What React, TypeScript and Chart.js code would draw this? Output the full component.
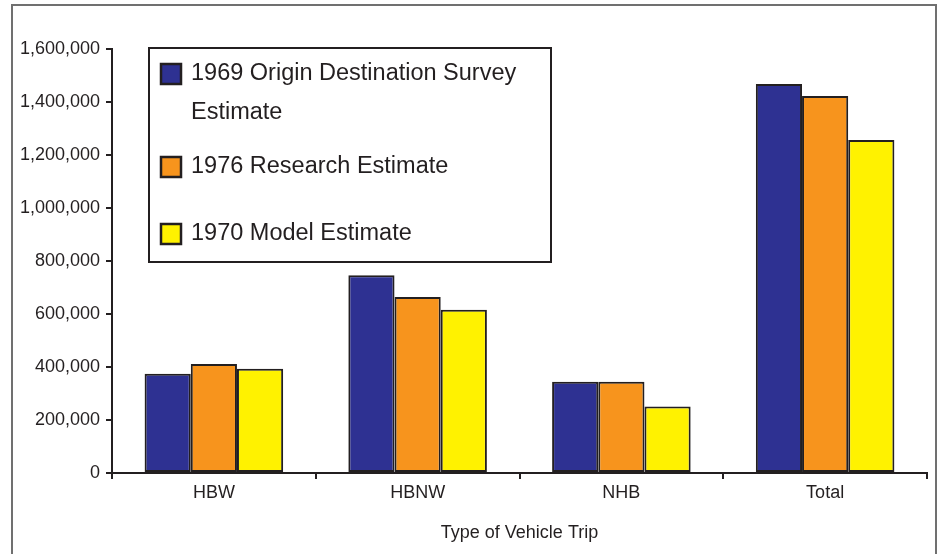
import React, { useEffect, useRef } from "react";
import { Chart, registerables } from "chart.js";

Chart.register(...registerables);

const categories = ["HBW", "HBNW", "NHB", "Total"];
const survey1969 = [375000, 746000, 344000, 1468000];
const research1976 = [411000, 664000, 344000, 1423000];
const model1970 = [393000, 616000, 251000, 1257000];
const seriesNames = [
  ["1969 Origin Destination Survey", "Estimate"],
  ["1976 Research Estimate"],
  ["1970 Model Estimate"],
];
const seriesColors = ["#2E3192", "#F7941D", "#FFF200"];
const yTicks = [0, 200000, 400000, 600000, 800000, 1000000, 1200000, 1400000, 1600000];
const xTitle = "Type of Vehicle Trip";

const FONT = "'Liberation Sans', Arial, Helvetica, sans-serif";
const TEXT = "#231F20";

const framePlugin = {
  id: "frame",
  beforeDraw(chart: any) {
    const ctx = chart.ctx;
    ctx.save();
    ctx.fillStyle = "#ffffff";
    ctx.fillRect(0, 0, chart.width, chart.height);
    ctx.strokeStyle = "#707070";
    ctx.lineWidth = 2;
    ctx.strokeRect(12, 5, 924, 620);
    ctx.restore();
  },
};

const legendPlugin = {
  id: "boxLegend",
  afterDraw(chart: any) {
    const ctx = chart.ctx;
    const ds = chart.data.datasets;
    ctx.save();
    ctx.fillStyle = "#ffffff";
    ctx.fillRect(149, 48, 402, 214);
    ctx.strokeStyle = "#231F20";
    ctx.lineWidth = 2;
    ctx.strokeRect(149, 48, 402, 214);
    const rowsY = [74, 167, 234];
    ctx.font = `23.5px ${FONT}`;
    ctx.textBaseline = "middle";
    ctx.textAlign = "left";
    ds.forEach((d: any, i: number) => {
      const y = rowsY[i];
      ctx.fillStyle = d.backgroundColor;
      ctx.fillRect(161, y - 10, 20, 20);
      ctx.strokeStyle = "#231F20";
      ctx.lineWidth = 2.5;
      ctx.strokeRect(161, y - 10, 20, 20);
      ctx.fillStyle = TEXT;
      const lines = seriesNames[i];
      lines.forEach((ln, j) => {
        ctx.fillText(ln, 191, y + j * 39);
      });
    });
    ctx.restore();
  },
};

export default function App() {
  const ref = useRef<HTMLCanvasElement | null>(null);
  useEffect(() => {
    if (!ref.current) return;
    const chart = new Chart(ref.current, {
      type: "bar",
      data: {
        labels: categories,
        datasets: [survey1969, research1976, model1970].map((data, i) => ({
          label: seriesNames[i].join(" "),
          data,
          backgroundColor: seriesColors[i],
          borderColor: "#231F20",
          borderWidth: 2,
          borderSkipped: false,
          categoryPercentage: 0.68,
          barPercentage: 1.0,
        })),
      },
      options: {
        responsive: false,
        animation: false,
        layout: { padding: { left: 0, top: 49, right: 15, bottom: 0 } },
        plugins: {
          legend: { display: false },
          tooltip: { enabled: false },
        },
        scales: {
          x: {
            offset: true,
            grid: {
              display: true,
              offset: true,
              drawOnChartArea: false,
              drawTicks: true,
              tickLength: 6,
              color: "#231F20",
              lineWidth: 2,
            },
            border: { display: true, color: "#231F20", width: 2 },
            ticks: {
              color: TEXT,
              font: { family: FONT, size: 18 },
              padding: 3,
            },
            title: {
              display: true,
              text: xTitle,
              color: TEXT,
              font: { family: FONT, size: 18 },
              padding: { top: 0, bottom: 10 },
            },
            afterFit(scale: any) {
              scale.height = 81;
            },
          },
          y: {
            min: 0,
            max: 1600000,
            afterBuildTicks(scale: any) {
              scale.ticks = yTicks.map((v) => ({ value: v }));
            },
            grid: {
              display: true,
              drawOnChartArea: false,
              drawTicks: true,
              tickLength: 6,
              color: "#231F20",
              lineWidth: 2,
            },
            border: { display: true, color: "#231F20", width: 2 },
            ticks: {
              color: TEXT,
              font: { family: FONT, size: 18 },
              padding: 6,
              callback: (v: any) => Number(v).toLocaleString("en-US"),
            },
            afterFit(scale: any) {
              scale.width = 112;
            },
          },
        },
      },
      plugins: [framePlugin, legendPlugin],
    });
    return () => chart.destroy();
  }, []);
  return (
    <div style={{ position: "fixed", left: 0, top: 0, width: 942, height: 554 }}>
      <canvas ref={ref} width={942} height={554} style={{ display: "block" }} />
    </div>
  );
}
